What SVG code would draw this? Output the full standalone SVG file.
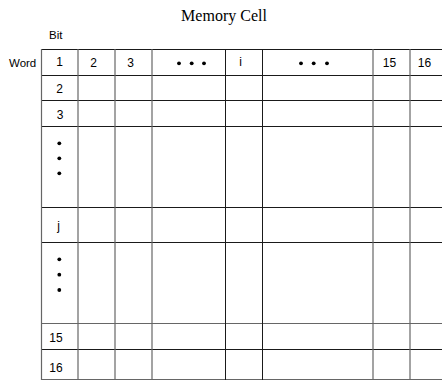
<svg xmlns="http://www.w3.org/2000/svg" width="442" height="381" viewBox="0 0 442 381">
<style>
.t{font-family:"Liberation Sans",Arial,sans-serif;font-size:12px;fill:#000}
.c{text-anchor:middle}
.title{font-family:"Liberation Serif","Times New Roman",serif;font-size:16px;fill:#000;text-anchor:middle}
.dk{stroke:#1a1a1a;stroke-width:1;fill:none}
.gr{stroke:#666;stroke-width:1.2;fill:none}
.dot{fill:#000}
</style>
<rect width="442" height="381" fill="#fff"/>
<text id="title" class="title" x="224" y="20.5">Memory Cell</text>
<g id="labels">
<text class="t" x="49" y="39" style="font-size:11.5px">Bit</text>
<text class="t" x="9" y="67" style="font-size:11.5px">Word</text>
</g>
<g id="grid">
<g id="hlines">
<line class="dk" x1="41" y1="49.5" x2="442" y2="49.5"/>
<line class="dk" x1="41" y1="75.5" x2="442" y2="75.5"/>
<line class="dk" x1="41" y1="100.5" x2="442" y2="100.5"/>
<line class="dk" x1="41" y1="126.5" x2="442" y2="126.5"/>
<line class="dk" x1="41" y1="207.5" x2="442" y2="207.5"/>
<line class="dk" x1="41" y1="242.5" x2="442" y2="242.5"/>
<line class="gr" x1="41" y1="323.5" x2="442" y2="323.5"/>
<line class="dk" x1="41" y1="349.5" x2="442" y2="349.5"/>
<line class="gr" x1="41" y1="379.5" x2="442" y2="379.5"/>
</g>
<g id="vlines">
<line class="gr" x1="41.5" y1="49" x2="41.5" y2="380"/>
<line class="gr" x1="78" y1="49" x2="78" y2="380"/>
<line class="gr" x1="115" y1="49" x2="115" y2="380"/>
<line class="gr" x1="152" y1="49" x2="152" y2="380"/>
<line class="dk" x1="225.5" y1="49" x2="225.5" y2="380"/>
<line class="dk" x1="262.5" y1="49" x2="262.5" y2="380"/>
<line class="gr" x1="373" y1="49" x2="373" y2="380"/>
<line class="gr" x1="410" y1="49" x2="410" y2="380"/>
</g>
</g>
<g id="header">
<text class="t c" x="59.5" y="66">1</text>
<text class="t c" x="93.5" y="66.5">2</text>
<text class="t c" x="130.7" y="66.5">3</text>
<circle class="dot" cx="179" cy="63.3" r="1.9"/>
<circle class="dot" cx="191.7" cy="63.3" r="1.9"/>
<circle class="dot" cx="204" cy="63.3" r="1.9"/>
<text class="t c" x="240.5" y="66">i</text>
<circle class="dot" cx="301" cy="63.3" r="1.9"/>
<circle class="dot" cx="313.7" cy="63.3" r="1.9"/>
<circle class="dot" cx="327" cy="63.3" r="1.9"/>
<text class="t c" x="389.5" y="67">15</text>
<text class="t c" x="424.5" y="67">16</text>
</g>
<g id="rows">
<text class="t c" x="59.7" y="92.5">2</text>
<text class="t c" x="60" y="118.5">3</text>
<circle class="dot" cx="59.3" cy="143.3" r="1.9"/>
<circle class="dot" cx="59.3" cy="158.3" r="1.9"/>
<circle class="dot" cx="59.3" cy="173.3" r="1.9"/>
<text class="t c" x="58.5" y="230">j</text>
<circle class="dot" cx="59.3" cy="259.3" r="1.9"/>
<circle class="dot" cx="59.3" cy="274.7" r="1.9"/>
<circle class="dot" cx="59.3" cy="290" r="1.9"/>
<text class="t c" x="56" y="342">15</text>
<text class="t c" x="56" y="372">16</text>
</g>
</svg>
